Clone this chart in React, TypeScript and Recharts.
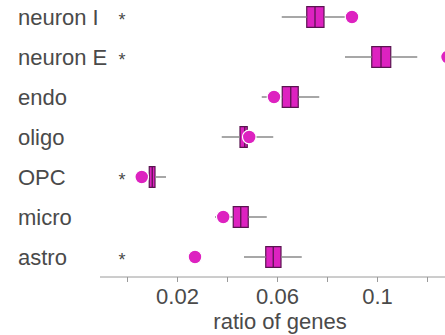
import React from "react";
import {
  ComposedChart,
  XAxis,
  YAxis,
  Scatter,
  ReferenceArea,
  ReferenceLine,
} from "recharts";

// cell types, top to bottom
const cellTypes = ["neuron I", "neuron E", "endo", "oligo", "OPC", "micro", "astro"];
const whiskerLow = [0.0617, 0.087, 0.0537, 0.0377, 0.0087, 0.035, 0.0466];
const quart1 = [0.0717, 0.0977, 0.0619, 0.045, 0.0087, 0.0423, 0.0553];
const medians = [0.075, 0.1014, 0.0653, 0.0469, 0.0099, 0.0453, 0.0583];
const quart3 = [0.0786, 0.1053, 0.0683, 0.0479, 0.011, 0.0483, 0.0614];
const whiskerHigh = [0.087, 0.1159, 0.0767, 0.0583, 0.0154, 0.0557, 0.0697];
const observed = [0.0898, 0.128, 0.0586, 0.0487, 0.0057, 0.0383, 0.027];
const starred = [true, true, false, false, true, false, true];
const starValue = -0.0022;

const xTicks = [0, 0.02, 0.04, 0.06, 0.08, 0.1, 0.12];
const labeledTicks = [0.02, 0.06, 0.1];

const rowPos = cellTypes.map((_, i) => cellTypes.length - 0.5 - i);
const dotData = cellTypes.map((_, i) => ({ x: observed[i], y: rowPos[i] }));
const starData = cellTypes
  .map((_, i) => ({ x: starValue, y: rowPos[i], on: starred[i] }))
  .filter((d) => d.on);

const MAGENTA = "#dd22c0";
const DARK = "#5a1450";
const WHISKER = "#8a8a8a";
const TEXT = "#4a4a4a";
const HALF = 0.26;
const FS = 22;

const CellTick = (props: any) => {
  const { y, payload } = props;
  const i = rowPos.indexOf(payload.value);
  return (
    <text x={18} y={y + 8} fill={TEXT} fontSize={FS} textAnchor="start">
      {cellTypes[i]}
    </text>
  );
};

export default function App() {
  return (
    <div
      style={{
        position: "absolute",
        left: 0,
        top: 0,
        width: 445,
        height: 335,
        overflow: "hidden",
        background: "#fff",
      }}
    >
      <ComposedChart
        width={460}
        height={335}
        margin={{ top: 0, right: 0, bottom: 0, left: 0 }}
        style={{ fontFamily: "'Liberation Sans', Arial, sans-serif" }}
      >
        <XAxis
          type="number"
          dataKey="x"
          domain={[-0.011, 0.133]}
          allowDataOverflow
          ticks={xTicks}
          tickFormatter={(v: number) => (labeledTicks.includes(v) ? String(v) : "")}
          stroke="#9a9a9a"
          tick={{ fill: TEXT, fontSize: FS }}
          tickSize={5}
          tickMargin={6}
          height={58}
          label={{
            value: "ratio of genes",
            position: "insideBottom",
            offset: 6,
            fill: TEXT,
            fontSize: FS,
          }}
        />
        <YAxis
          type="number"
          dataKey="y"
          domain={[0, 6.925]}
          allowDataOverflow
          ticks={rowPos}
          axisLine={false}
          tickLine={false}
          width={100}
          tick={<CellTick />}
        />
        {cellTypes.map((c, i) => (
          <ReferenceLine
            key={`wl-${c}`}
            segment={[
              { x: whiskerLow[i], y: rowPos[i] },
              { x: quart1[i], y: rowPos[i] },
            ]}
            stroke={WHISKER}
            strokeWidth={1.5}
          />
        ))}
        {cellTypes.map((c, i) => (
          <ReferenceLine
            key={`wh-${c}`}
            segment={[
              { x: quart3[i], y: rowPos[i] },
              { x: whiskerHigh[i], y: rowPos[i] },
            ]}
            stroke={WHISKER}
            strokeWidth={1.5}
          />
        ))}
        {cellTypes.map((c, i) => (
          <ReferenceArea
            key={`b-${c}`}
            x1={quart1[i]}
            x2={quart3[i]}
            y1={rowPos[i] - HALF}
            y2={rowPos[i] + HALF}
            fill={MAGENTA}
            fillOpacity={1}
            stroke={DARK}
            strokeWidth={1.2}
          />
        ))}
        {cellTypes.map((c, i) => (
          <ReferenceLine
            key={`m-${c}`}
            segment={[
              { x: medians[i], y: rowPos[i] - HALF },
              { x: medians[i], y: rowPos[i] + HALF },
            ]}
            stroke={DARK}
            strokeWidth={1.3}
          />
        ))}
        <Scatter
          data={dotData}
          isAnimationActive={false}
          shape={(p: any) => (
            <circle cx={p.cx} cy={p.cy} r={6.8} fill={MAGENTA} stroke="#fff" strokeWidth={1.2} />
          )}
        />
        <Scatter
          data={starData}
          isAnimationActive={false}
          shape={(p: any) => (
            <text x={p.cx} y={p.cy + 9} textAnchor="middle" fontSize={18} fill={TEXT}>
              *
            </text>
          )}
        />
      </ComposedChart>
    </div>
  );
}
